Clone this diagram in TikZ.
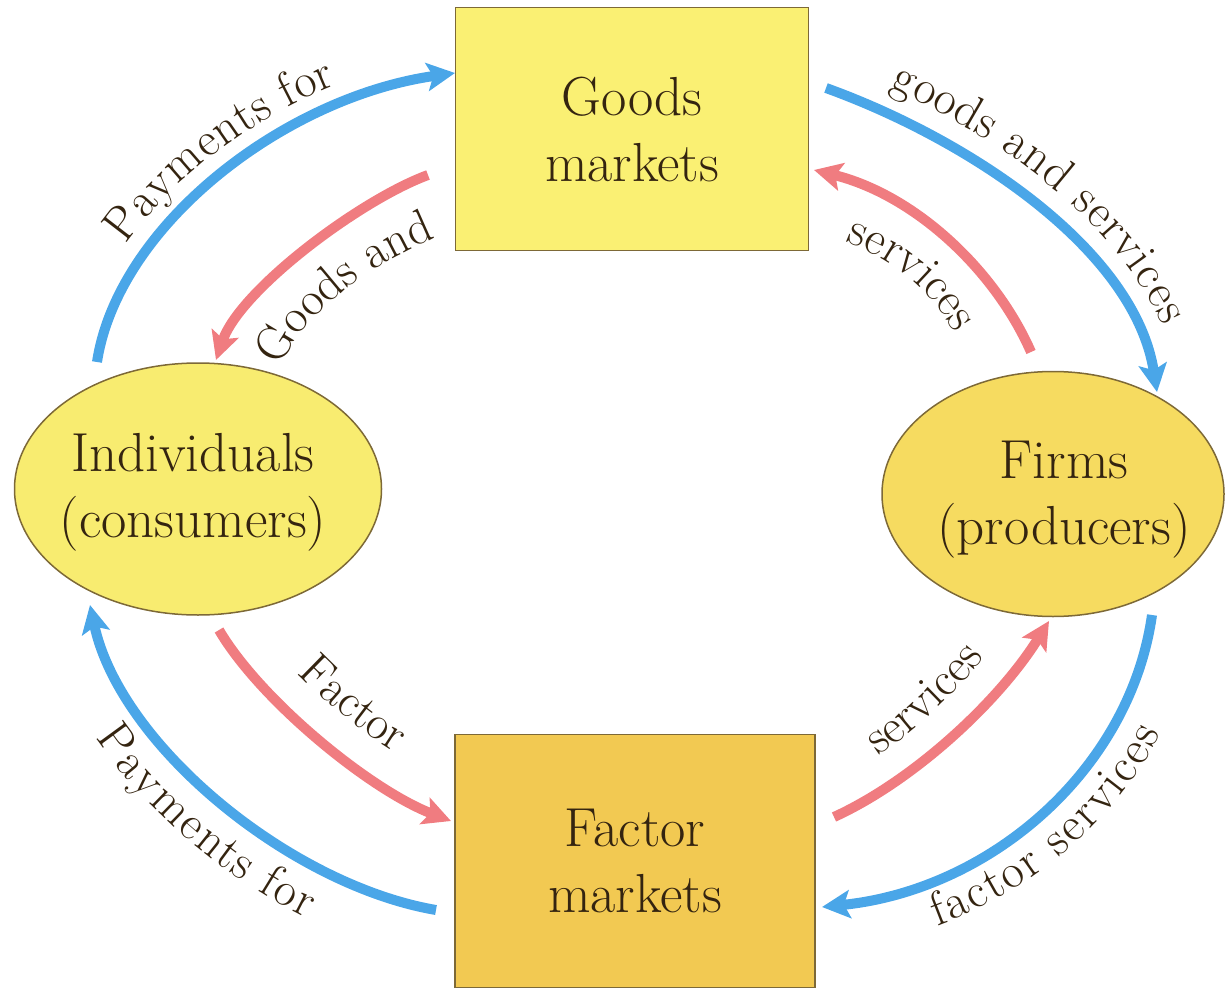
\documentclass[tikz,border=0pt]{standalone}
\usetikzlibrary{arrows.meta,shapes.geometric,decorations.text}
\definecolor{flowblue}{RGB}{74,166,232}
\definecolor{flowred}{RGB}{240,124,128}
\definecolor{goodsfill}{RGB}{250,240,115}
\definecolor{factorfill}{RGB}{242,201,82}
\definecolor{indfill}{RGB}{248,236,112}
\definecolor{firmfill}{RGB}{246,219,96}
\definecolor{edgecol}{RGB}{125,105,55}
\definecolor{inkcol}{RGB}{52,36,16}
\newcommand\boxfnt{\fontsize{55}{66}\selectfont}
\newcommand\lblfnt{\fontsize{48}{52}\selectfont}
\begin{document}
\begin{tikzpicture}[x=1pt,y=-1pt,
  market/.style={draw=edgecol,line width=1.5pt,rectangle,inner sep=0pt,text=inkcol,font=\boxfnt,align=center},
  agent/.style={draw=edgecol,line width=1.5pt,ellipse,inner sep=0pt},
  agenttext/.style={text=inkcol,font=\boxfnt,align=center,inner sep=0pt},
  flow/.style={line width=10pt,-{Stealth[length=28pt,width=28pt,inset=6pt]}},
  bluef/.style={flow,draw=flowblue},
  redf/.style={flow,draw=flowred},
  lbl/.style={decorate,decoration={text along path,text={|\lblfnt|#1},text align=center,text color=inkcol}},
]
\useasboundingbox (0,0) rectangle (1226,995);

% nodes
\node[market,fill=goodsfill,minimum width=353pt,minimum height=243pt] (goods) at (632,129) {Goods\\markets};
\node[market,fill=factorfill,minimum width=360pt,minimum height=253pt] (factor) at (635,861) {Factor\\markets};
\node[agent,fill=indfill,minimum width=367pt,minimum height=252pt] (ind) at (198,489) {};
\node[agenttext] (indtext) at (193,492) {Individuals\\(consumers)};
\node[agent,fill=firmfill,minimum width=342pt,minimum height=245pt] (firms) at (1053,494) {};
\node[agenttext] (firmstext) at (1064,500) {Firms\\(producers)};

% end points of the flows
\coordinate (a1s) at (97,362);   \coordinate (a1e) at (455,73);
\coordinate (a2s) at (428,175);  \coordinate (a2e) at (216,360);
\coordinate (a3s) at (826,88);   \coordinate (a3e) at (1157,392);
\coordinate (a4s) at (1031,352); \coordinate (a4e) at (814,170);
\coordinate (a5s) at (219,630);  \coordinate (a5e) at (451,821);
\coordinate (a6s) at (436,910);  \coordinate (a6e) at (90,605);
\coordinate (a7s) at (834,817);  \coordinate (a7e) at (1049,621);
\coordinate (a8s) at (1152,615); \coordinate (a8e) at (822,907);

% flows
\draw[bluef] (a1s) .. controls (118,225) and (285,97) .. (a1e);
\draw[redf]  (a2s) .. controls (360,200) and (240,290) .. (a2e);
\draw[bluef] (a3s) .. controls (970,140) and (1135,250) .. (a3e);
\draw[redf]  (a4s) .. controls (995,270) and (915,195) .. (a4e);
\draw[redf]  (a5s) .. controls (260,700) and (370,790) .. (a5e);
\draw[bluef] (a6s) .. controls (290,885) and (120,745) .. (a6e);
\draw[redf]  (a7s) .. controls (915,780) and (1000,700) .. (a7e);
\draw[bluef] (a8s) .. controls (1130,770) and (990,890) .. (a8e);

% baselines of the labels on the inner side of a flow
\coordinate (t2s) at (275,380);  \coordinate (t2e) at (449,233);
\coordinate (t4s) at (800,228);  \coordinate (t4e) at (976,376);
\coordinate (t5s) at (250,612);  \coordinate (t5e) at (464,787);
\coordinate (t7s) at (821,788);  \coordinate (t7e) at (1022,604);

% labels along the flows
\path[lbl={Payments for},decoration={raise=20pt}] (a1s) .. controls (118,225) and (285,97) .. (a1e);
\path[lbl={Goods and}] (t2s) .. controls (299,310) and (381,258) .. (t2e);
\path[lbl={goods and services},decoration={raise=24pt}] (a3s) .. controls (970,140) and (1135,250) .. (a3e);
\path[lbl={services}] (t4s) .. controls (901,253) and (940,294) .. (t4e);
\path[lbl={Factor}] (t5s) .. controls (291,682) and (383,756) .. (t5e);
\path[lbl={Payments for},decoration={raise=-50pt}] (a6e) .. controls (120,745) and (290,885) .. (a6s);
\path[lbl={services}] (t7s) .. controls (902,751) and (973,683) .. (t7e);
\path[lbl={factor services},decoration={raise=-45pt}] (a8e) .. controls (990,890) and (1130,770) .. (a8s);
\end{tikzpicture}
\end{document}
